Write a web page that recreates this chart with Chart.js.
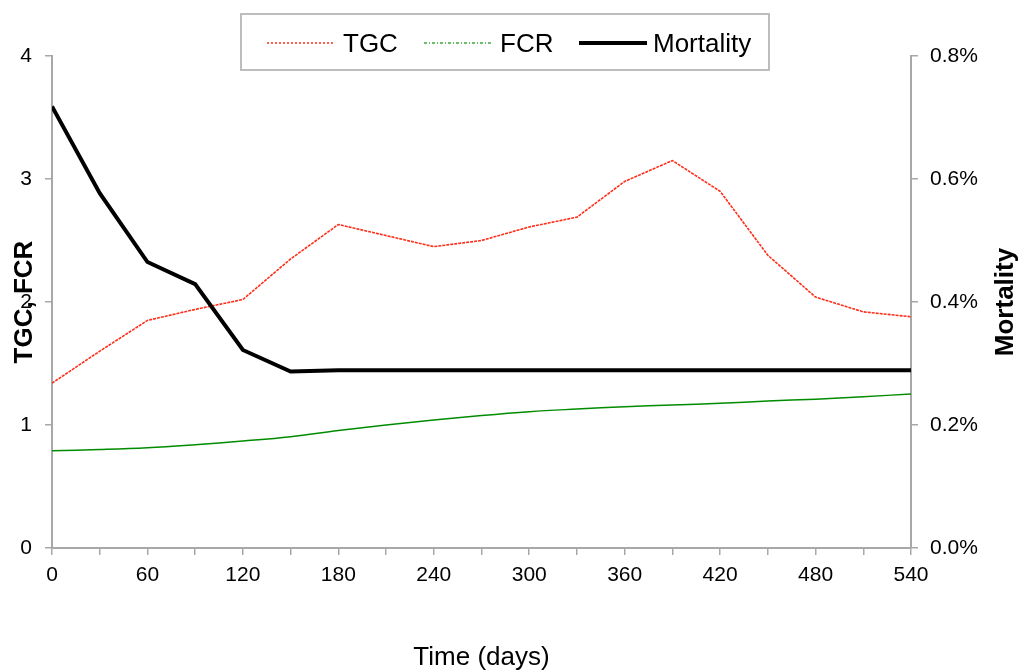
<!DOCTYPE html>
<html>
<head>
<meta charset="utf-8">
<title>TGC, FCR and Mortality</title>
<script src="https://cdn.jsdelivr.net/npm/chart.js@4/dist/chart.umd.min.js"></script>
<style>
  html, body { margin: 0; padding: 0; background: #fff; }
  #wrap { width: 1021px; height: 671px; }
</style>
</head>
<body>
<div id="wrap"><canvas id="growthChart" width="1021" height="671"></canvas></div>
<script>
// days since start, one sample every 30 days
const days = [0, 30, 60, 90, 120, 150, 180, 210, 240, 270, 300, 330, 360, 390, 420, 450, 480, 510, 540];

// thermal growth coefficient
const tgc = [1.34, 1.60, 1.85, 1.94, 2.02, 2.35, 2.63, 2.54, 2.45, 2.50, 2.61, 2.69, 2.98, 3.15, 2.90, 2.38, 2.04, 1.92, 1.88];

// feed conversion ratio
const fcr = [0.79, 0.80, 0.815, 0.84, 0.87, 0.905, 0.955, 1.00, 1.04, 1.077, 1.108, 1.13, 1.149, 1.163, 1.177, 1.195, 1.21, 1.23, 1.252];

// mortality (%)
const mortality = [0.718, 0.577, 0.465, 0.429, 0.322, 0.287, 0.289, 0.289, 0.289, 0.289, 0.289, 0.289, 0.289, 0.289, 0.289, 0.289, 0.289, 0.289, 0.289];

const leftTicks = [0, 1, 2, 3, 4];
const rightTicks = [0, 0.2, 0.4, 0.6, 0.8];

const FONT = "'Liberation Sans', Arial, sans-serif";
const AXIS_GREY = '#a8a8a8';

Chart.defaults.font.family = FONT;
Chart.defaults.color = '#000';

function toPoints(ys) {
    return days.map((d, i) => ({ x: d, y: ys[i] }));
}

// legend box and right-hand title, drawn by hand
const extras = {
    id: 'extras',
    afterDraw(chart) {
        const ctx = chart.ctx;
        ctx.save();

        ctx.strokeStyle = '#bdbdbd';
        ctx.lineWidth = 2;
        ctx.strokeRect(241, 14, 528, 56);

        const items = [
            { x0: 267, x1: 334, tx: 343, text: 'TGC', color: 'rgb(255,45,25)', width: 1.5, dash: [2, 2] },
            { x0: 424, x1: 493, tx: 500, text: 'FCR', color: 'rgb(60,170,60)', width: 1.5, dash: [3, 2, 1, 2] },
            { x0: 579, x1: 647, tx: 653, text: 'Mortality', color: '#000', width: 4, dash: [] }
        ];
        ctx.font = '26px ' + FONT;
        ctx.textBaseline = 'middle';
        ctx.fillStyle = '#000';
        items.forEach(it => {
            ctx.beginPath();
            ctx.setLineDash(it.dash);
            ctx.strokeStyle = it.color;
            ctx.lineWidth = it.width;
            ctx.moveTo(it.x0, 43);
            ctx.lineTo(it.x1, 43);
            ctx.stroke();
            ctx.fillText(it.text, it.tx, 45);
        });
        ctx.setLineDash([]);

        const area = chart.chartArea;
        ctx.translate(1006, (area.top + area.bottom) / 2);
        ctx.rotate(-Math.PI / 2);
        ctx.font = 'bold 26px ' + FONT;
        ctx.textAlign = 'center';
        ctx.fillText('Mortality', 0, 0);
        ctx.restore();
    }
};

const ctx = document.getElementById('growthChart').getContext('2d');

new Chart(ctx, {
    type: 'line',
    data: {
        datasets: [
            {
                label: 'TGC',
                data: toPoints(tgc),
                yAxisID: 'y',
                borderColor: 'rgb(255,45,25)',
                borderWidth: 1.6,
                borderDash: [3, 1],
                tension: 0,
                order: 2
            },
            {
                label: 'FCR',
                data: toPoints(fcr),
                yAxisID: 'y',
                borderColor: 'rgb(0,140,0)',
                borderWidth: 1.5,
                tension: 0.4,
                order: 1
            },
            {
                label: 'Mortality',
                data: toPoints(mortality),
                yAxisID: 'y1',
                borderColor: '#000',
                borderWidth: 4,
                tension: 0,
                order: 0
            }
        ]
    },
    options: {
        responsive: false,
        animation: false,
        elements: { point: { radius: 0 } },
        layout: { padding: { top: 56, left: 0, right: 0, bottom: 0 } },
        plugins: {
            legend: { display: false },
            tooltip: { enabled: false }
        },
        scales: {
            x: {
                type: 'linear',
                min: 0,
                max: 540,
                afterFit: s => { s.height = 123; },
                border: { color: AXIS_GREY, width: 2 },
                grid: { drawOnChartArea: false, tickLength: 7, color: AXIS_GREY, lineWidth: 1.5 },
                ticks: {
                    stepSize: 30,
                    padding: 8,
                    maxRotation: 0,
                    autoSkip: false,
                    font: { size: 21 },
                    callback: v => (v % 60 === 0 ? String(v) : '')
                },
                title: {
                    display: true,
                    text: 'Time (days)',
                    font: { size: 26, lineHeight: 1.0 },
                    padding: { top: 0, bottom: 0 }
                }
            },
            y: {
                position: 'left',
                min: 0,
                max: 4,
                afterFit: s => { s.width = 52; },
                afterBuildTicks: s => { s.ticks = leftTicks.map(v => ({ value: v })); },
                border: { color: AXIS_GREY, width: 2 },
                grid: { drawOnChartArea: false, tickLength: 7, color: AXIS_GREY, lineWidth: 1.5 },
                ticks: { padding: 13, font: { size: 21 } },
                title: {
                    display: true,
                    text: 'TGC, FCR',
                    font: { size: 26, weight: 'bold' },
                    padding: { top: 9, bottom: 0 }
                }
            },
            y1: {
                position: 'right',
                min: 0,
                max: 0.8,
                afterFit: s => { s.width = 110; },
                afterBuildTicks: s => { s.ticks = rightTicks.map(v => ({ value: v })); },
                border: { color: AXIS_GREY, width: 2 },
                grid: { drawOnChartArea: false, tickLength: 7, color: AXIS_GREY, lineWidth: 1.5 },
                ticks: {
                    padding: 12,
                    font: { size: 21 },
                    callback: v => v.toFixed(1) + '%'
                }
            }
        }
    },
    plugins: [extras]
});
</script>
</body>
</html>
